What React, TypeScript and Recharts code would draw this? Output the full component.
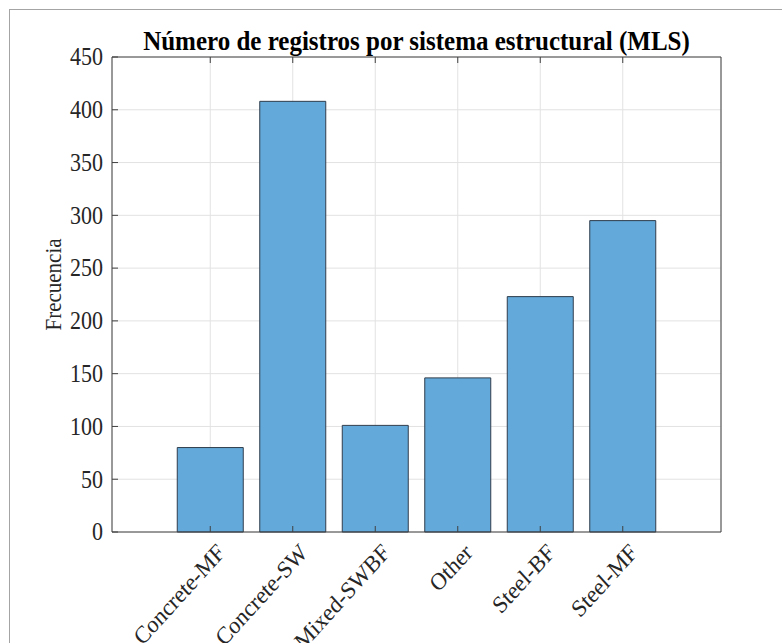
import { Bar, BarChart, CartesianGrid, Label, XAxis, YAxis } from "recharts";

const categories = ["Concrete-MF", "Concrete-SW", "Mixed-SWBF", "Other", "Steel-BF", "Steel-MF"];
const counts = [80, 408, 101, 146, 223, 295];
const yTicks = [0, 50, 100, 150, 200, 250, 300, 350, 400, 450];

const data = categories.map((name, i) => ({ name, count: counts[i] }));

const FONT = '"Liberation Serif", "Times New Roman", serif';
const AXIS = "#404040";
const TEXT = "#262626";
const TICK_LEN = 6;
const STRETCH = 1.1; // source figure text is slightly taller than wide

// MATLAB style: tick marks point inward
function LeftTick(props: any) {
  const { x, y, payload } = props;
  const tx = x - 9;
  return (
    <g>
      <line x1={x} y1={y} x2={x + TICK_LEN} y2={y} stroke={AXIS} />
      <text
        transform={`translate(${tx} ${y}) scale(1 ${STRETCH})`}
        textAnchor="end"
        dominantBaseline="central"
        fontFamily={FONT}
        fontSize={22}
        fill={TEXT}
      >
        {payload.value}
      </text>
    </g>
  );
}

function RightTick(props: any) {
  const { x, y } = props;
  return <line x1={x} y1={y} x2={x - TICK_LEN} y2={y} stroke={AXIS} />;
}

function TopTick(props: any) {
  const { x, y } = props;
  return <line x1={x} y1={y} x2={x} y2={y + TICK_LEN} stroke={AXIS} />;
}

function BottomTick(props: any) {
  const { x, y, payload } = props;
  const tx = x + 16;
  const ty = y + 22;
  return (
    <g>
      <line x1={x} y1={y} x2={x} y2={y - TICK_LEN} stroke={AXIS} />
      <text
        transform={`translate(${tx} ${ty}) scale(1 ${STRETCH}) rotate(-45)`}
        textAnchor="end"
        fontFamily={FONT}
        fontSize={22}
        fill={TEXT}
      >
        {payload.value}
      </text>
    </g>
  );
}

function YLabel(props: any) {
  const { viewBox } = props;
  const x = viewBox.x + 9;
  const y = viewBox.y + viewBox.height / 2 - 10;
  return (
    <text
      transform={`translate(${x} ${y}) scale(1.05 1) rotate(-90)`}
      textAnchor="middle"
      fontFamily={FONT}
      fontSize={21}
      fill={TEXT}
    >
      Frecuencia
    </text>
  );
}

export default function App() {
  return (
    <div style={{ position: "fixed", left: 0, top: 0, width: 782, height: 643, overflow: "hidden", background: "#fff" }}>
      <div style={{ position: "absolute", left: 9, top: 9, width: 900, height: 900, border: "1.5px solid #a4a4a4" }} />
      <BarChart
        width={782}
        height={643}
        data={data}
        margin={{ top: 56, right: 60, bottom: 11, left: 52 }}
        barCategoryGap="10%"
      >
        <CartesianGrid stroke="#e2e2e2" />
        <XAxis
          dataKey="name"
          type="category"
          height={100}
          padding={{ left: 57, right: 57 }}
          axisLine={{ stroke: AXIS }}
          tickLine={false}
          tickSize={0}
          tickMargin={0}
          interval={0}
          tick={<BottomTick />}
        />
        <XAxis
          xAxisId="top"
          orientation="top"
          dataKey="name"
          type="category"
          height={1}
          padding={{ left: 57, right: 57 }}
          axisLine={{ stroke: AXIS }}
          tickLine={false}
          tickSize={0}
          tickMargin={0}
          interval={0}
          tick={<TopTick />}
        />
        <YAxis
          domain={[0, 450]}
          ticks={yTicks}
          width={60}
          axisLine={{ stroke: AXIS }}
          tickLine={false}
          tickSize={0}
          tickMargin={0}
          interval={0}
          tick={<LeftTick />}
        >
          <Label content={<YLabel />} />
        </YAxis>
        <YAxis
          yAxisId="right"
          orientation="right"
          domain={[0, 450]}
          ticks={yTicks}
          width={1}
          axisLine={{ stroke: AXIS }}
          tickLine={false}
          tickSize={0}
          tickMargin={0}
          interval={0}
          tick={<RightTick />}
        />
        <Bar dataKey="count" fill="#63a9d9" stroke="#2f3d4c" strokeWidth={1} isAnimationActive={false} />
      </BarChart>
      <div
        style={{
          position: "absolute",
          left: 112,
          top: 28,
          width: 609,
          textAlign: "center",
          fontFamily: FONT,
          fontWeight: "bold",
          fontSize: 25,
          lineHeight: "25px",
          color: "#000",
          transform: "scaleY(1.12)",
          whiteSpace: "nowrap",
        }}
      >
        Número de registros por sistema estructural (MLS)
      </div>
    </div>
  );
}
